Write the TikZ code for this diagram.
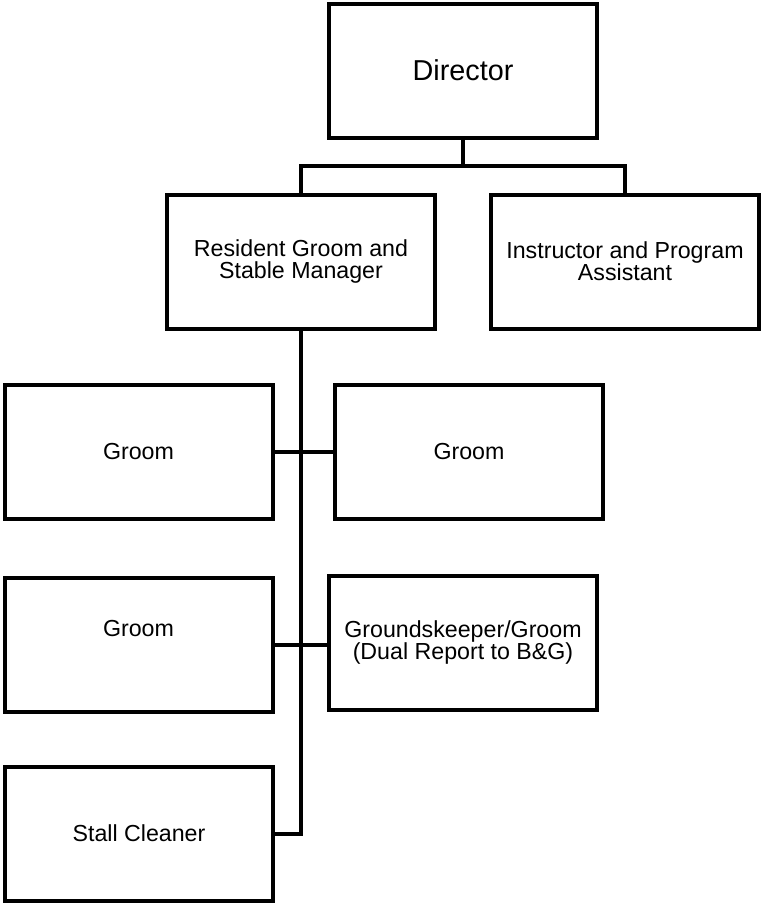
\documentclass[tikz,border=0pt]{standalone}
\usepackage{fontspec}
\setmainfont{Liberation Sans}
\usepackage{amsmath}

\tikzset{
	post/.style = {draw, line width=4pt, rectangle, minimum width=268pt, minimum height=134pt, inner sep=0pt, align=center, font=\fontsize{23.2}{21.7}\selectfont},
	link/.style = {line width=4pt}
}

\begin{document}
\begin{tikzpicture}[x=1pt, y=-1pt]
	% 画布大小
	\useasboundingbox (0,0) rectangle (761,903);
	
	% 绘制各个职位
	\node[post, font=\fontsize{28.8}{30}\selectfont] (director) at (463,70.5) {Director};
	\node[post] (resident) at (301,261.5) {Resident Groom and\\Stable Manager};
	\node[post] (instructor) at (625,261.5) {Instructor and Program\\Assistant};
	\node[post] (groomA) at (138.5,452) {Groom};
	\node[post] (groomB) at (469,452) {Groom};
	\node[post] (groomC) at (138.5,645) {\raisebox{34pt}{Groom}};
	\node[post] (keeper) at (463,642.5) {Groundskeeper/Groom\\(Dual Report to B\&G)};
	\node[post] (cleaner) at (139,833.5) {Stall Cleaner};
	
	% 绘制连线
	\coordinate (bar) at (463,166);
	\draw[link] (director.south) -- (bar);
	\draw[link] (resident.north) |- (bar) -| (instructor.north);
	\draw[link] (resident.south) |- (cleaner.east);
	\draw[link] (groomA.east) -- (groomB.west);
	\draw[link] (groomC.east) -- (groomC.east -| keeper.west);
\end{tikzpicture}
\end{document}
